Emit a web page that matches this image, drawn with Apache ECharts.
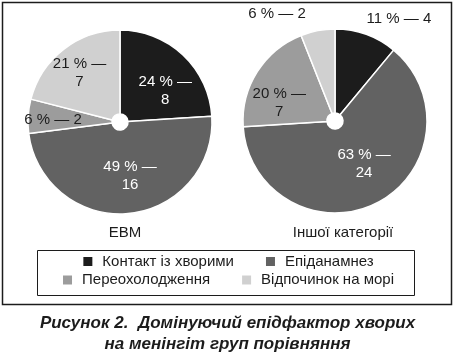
<!DOCTYPE html>
<html lang="uk">
<head>
  <meta charset="UTF-8">
  <title>Рисунок 2</title>
  <script src="https://cdn.jsdelivr.net/npm/echarts@6/dist/echarts.min.js"></script>
  <style>
    html, body { margin: 0; padding: 0; background: #fff; }
    #chart { width: 455px; height: 352px; }
  </style>
</head>
<body>
  <div id="chart"></div>
  <script>
    // дані
    const factors = ['Контакт із хворими', 'Епіданамнез', 'Переохолодження', 'Відпочинок на морі'];
    const groups = ['ЕВМ', 'Іншої категорії'];
    const evmPercent = [24, 49, 6, 21];
    const evmCount = [8, 16, 2, 7];
    const otherPercent = [11, 63, 20, 6];
    const otherCount = [4, 24, 7, 2];

    const colors = ['#1c1c1c', '#626262', '#9c9c9c', '#d0d0d0'];
    const font = 'Liberation Sans, Arial, sans-serif';

    // підписи: колір, зсув від положення 'inside', розрив рядка
    const evmLabelColor = ['#fff', '#fff', '#1c1c1c', '#1c1c1c'];
    const otherLabelColor = ['#1c1c1c', '#fff', '#1c1c1c', '#1c1c1c'];
    const evmShift = [[9, 7], [5, 1], [-14, 1], [-8, -7]];
    const otherShift = [[46, -52], [5, -4], [-11, 10], [-48, -55]];
    const evmBreak = [true, true, false, true];
    const otherBreak = [false, true, true, false];

    function makeData(perc, cnt, br, lc) {
      return factors.map((name, i) => ({
        name: name,
        value: perc[i],
        itemStyle: { color: colors[i] },
        label: {
          color: lc[i],
          formatter: perc[i] + ' % —' + (br[i] ? '\n' : ' ') + cnt[i]
        }
      }));
    }

    function makePie(center, perc, cnt, br, lc, shift) {
      return {
        type: 'pie',
        center: center,
        radius: [8, 92],
        startAngle: 90,
        clockwise: true,
        silent: true,
        avoidLabelOverlap: false,
        itemStyle: { borderColor: '#fff', borderWidth: 1.5 },
        label: {
          show: true,
          position: 'inside',
          fontFamily: font,
          fontSize: 15,
          lineHeight: 18,
          align: 'center'
        },
        labelLine: { show: false },
        labelLayout: function (p) {
          return { dx: shift[p.dataIndex][0], dy: shift[p.dataIndex][1] };
        },
        data: makeData(perc, cnt, br, lc)
      };
    }

    const legendText = { fontFamily: font, fontSize: 15, lineHeight: 16, color: '#1c1c1c', padding: [0, 0, 0, 4] };

    const chart = echarts.init(document.getElementById('chart'), null, { renderer: 'canvas' });

    const option = {
      animation: false,
      title: [
        { text: groups[0], left: 120, top: 220, textAlign: 'center',
          textStyle: { fontFamily: font, fontSize: 15, fontWeight: 'normal', color: '#1c1c1c' } },
        { text: groups[1], left: 338, top: 220, textAlign: 'center',
          textStyle: { fontFamily: font, fontSize: 15, fontWeight: 'normal', color: '#1c1c1c' } },
        { text: 'Рисунок 2.  Домінуючий епідфактор хворих\nна менінгіт груп порівняння',
          left: 'center', top: 308,
          textStyle: { fontFamily: font, fontSize: 17, fontWeight: 'bold', fontStyle: 'italic',
            color: '#1c1c1c', lineHeight: 21 } }
      ],
      legend: [
        {
          data: factors.slice(0, 2), left: 'center', top: 253.5, itemGap: 30, padding: 0,
          itemWidth: 11, itemHeight: 11, icon: 'rect', selectedMode: false,
          textStyle: legendText
        },
        {
          data: factors.slice(2), left: 'center', top: 272, itemGap: 30, padding: 0,
          itemWidth: 11, itemHeight: 11, icon: 'rect', selectedMode: false,
          textStyle: legendText
        }
      ],
      graphic: [
        { type: 'rect', shape: { x: 2.5, y: 2.5, width: 449, height: 302 },
          style: { fill: 'none', stroke: '#1c1c1c', lineWidth: 1.5 }, silent: true },
        { type: 'rect', shape: { x: 37.5, y: 250.5, width: 377, height: 45 },
          style: { fill: 'none', stroke: '#1c1c1c', lineWidth: 1 }, silent: true }
      ],
      series: [
        makePie([120, 122], evmPercent, evmCount, evmBreak, evmLabelColor, evmShift),
        makePie([335, 121], otherPercent, otherCount, otherBreak, otherLabelColor, otherShift)
      ]
    };

    chart.setOption(option);
  </script>
</body>
</html>
